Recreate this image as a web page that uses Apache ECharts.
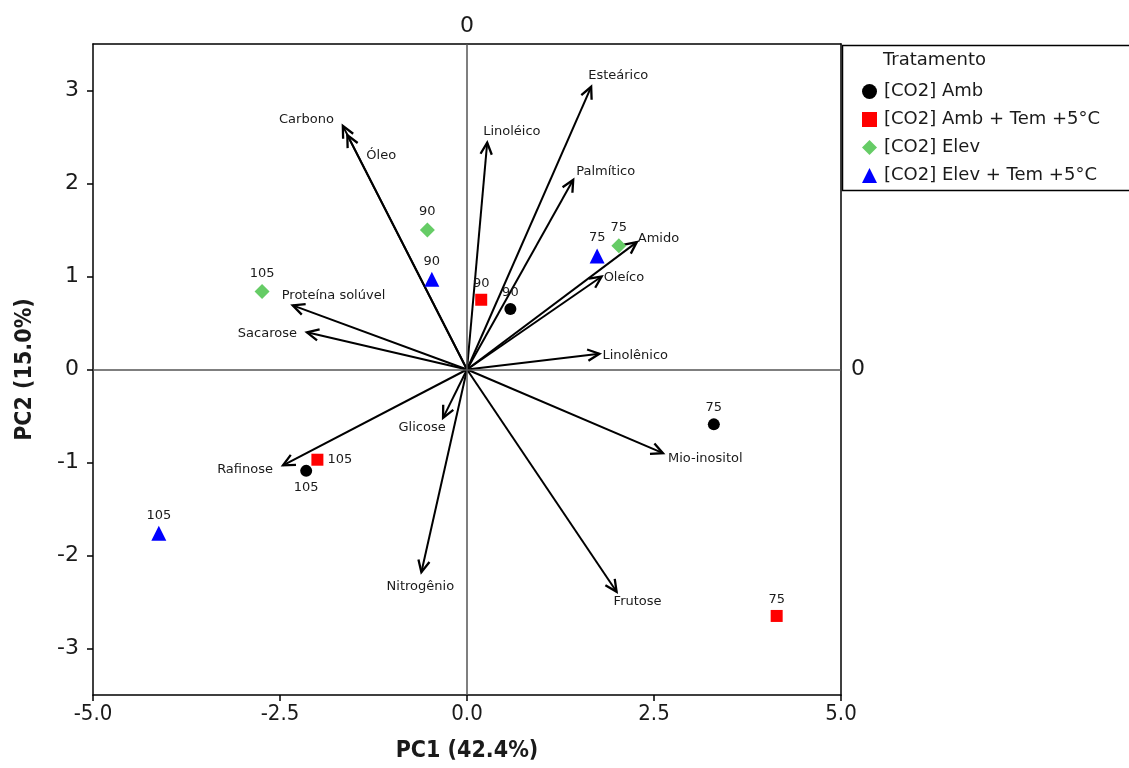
<!DOCTYPE html>
<html>
<head>
<meta charset="utf-8">
<script src="https://cdn.jsdelivr.net/npm/echarts@6/dist/echarts.min.js"></script>
<style>
  html, body { margin: 0; padding: 0; background: #fff; }
  #main { width: 1129px; height: 768px; }
</style>
</head>
<body>
<div id="main"></div>
<script>
// dias (rótulos dos pontos)
const days = ['75', '90', '105'];

// escores por tratamento (PC1, PC2), na ordem de days
const ambX = [3.30, 0.58, -2.15];
const ambY = [-0.59, 0.65, -1.09];
const ambTemX = [4.14, 0.19, -2.00];
const ambTemY = [-2.65, 0.75, -0.97];
const elevX = [2.03, -0.53, -2.74];
const elevY = [1.33, 1.50, 0.84];
const elevTemX = [1.74, -0.47, -4.12];
const elevTemY = [1.22, 0.97, -1.76];

// cargas (vetores)
const loadNames = ['Carbono', 'Óleo', 'Linoléico', 'Esteárico', 'Palmítico', 'Amido', 'Oleíco',
  'Proteína solúvel', 'Sacarose', 'Linolênico', 'Glicose', 'Rafinose', 'Nitrogênio', 'Frutose', 'Mio-inositol'];
const loadX = [-1.66, -1.60, 0.27, 1.66, 1.42, 2.27, 1.80, -2.33, -2.14, 1.77, -0.32, -2.46, -0.61, 2.00, 2.62];
const loadY = [2.62, 2.52, 2.44, 3.04, 2.04, 1.37, 1.00, 0.69, 0.40, 0.17, -0.52, -1.03, -2.18, -2.39, -0.90];

// eixos
const xTicks = [-5, -2.5, 0, 2.5, 5];
const yTicks = [-3, -2, -1, 0, 1, 2, 3];

const treatments = ['[CO2] Amb', '[CO2] Amb + Tem +5°C', '[CO2] Elev', '[CO2] Elev + Tem +5°C'];
const icons = ['circle', 'rect', 'diamond', 'triangle'];

const FONT = '"DejaVu Sans", Verdana, sans-serif';
const COND = '"DejaVu Sans Condensed", "DejaVu Sans", sans-serif';

// posição dos rótulos das setas: [dx, dy, align]
const labelOff = {
  'Carbono': [-9, -6, 'right'],
  'Óleo': [19, 20, 'left'],
  'Linoléico': [-4, -11, 'left'],
  'Esteárico': [-3, -11, 'left'],
  'Palmítico': [3, -8, 'left'],
  'Amido': [1, -3, 'left'],
  'Oleíco': [2, 1, 'left'],
  'Proteína solúvel': [-11, -10, 'left'],
  'Sacarose': [-10, 1, 'right'],
  'Linolênico': [3, 2, 'left'],
  'Glicose': [-21, 10, 'center'],
  'Rafinose': [-10, 4, 'right'],
  'Nitrogênio': [-1, 14, 'center'],
  'Frutose': [-3, 10, 'left'],
  'Mio-inositol': [5, 5, 'left']
};

function pts(xs, ys, special) {
  return xs.map((x, i) => {
    const item = { value: [x, ys[i]], name: days[i] };
    if (special && special[days[i]]) item.label = { position: special[days[i]] };
    return item;
  });
}

function scatter(name, data, symbol, size, color) {
  return {
    name: name,
    type: 'scatter',
    data: data,
    symbol: symbol,
    symbolSize: size,
    itemStyle: { color: color, opacity: 1 },
    label: {
      show: true,
      position: 'top',
      distance: 4,
      formatter: p => p.name,
      fontSize: 13,
      fontFamily: FONT,
      color: '#1a1a1a'
    },
    z: 3
  };
}

const series = [
  scatter(treatments[0], pts(ambX, ambY, { '105': 'bottom' }), 'circle', 12, '#000000'),
  scatter(treatments[1], pts(ambTemX, ambTemY, { '105': 'right' }), 'rect', 12, '#ff0000'),
  scatter(treatments[2], pts(elevX, elevY), 'diamond', 15, '#66cc66'),
  scatter(treatments[3], pts(elevTemX, elevTemY), 'triangle', 15, '#0000ff'),
  {
    name: 'cargas',
    type: 'custom',
    data: loadNames.map((n, i) => [loadX[i], loadY[i], i]),
    encode: { x: 0, y: 1 },
    z: 2,
    silent: true,
    renderItem: function (params, api) {
      const o = api.coord([0, 0]);
      const t = api.coord([api.value(0), api.value(1)]);
      const name = loadNames[api.value(2)];
      const ang = Math.atan2(t[1] - o[1], t[0] - o[0]);
      const L = 13, a = Math.PI / 7;
      const p1 = [t[0] - L * Math.cos(ang - a), t[1] - L * Math.sin(ang - a)];
      const p2 = [t[0] - L * Math.cos(ang + a), t[1] - L * Math.sin(ang + a)];
      const off = labelOff[name] || [4, 0, 'left'];
      return {
        type: 'group',
        children: [
          { type: 'line', shape: { x1: o[0], y1: o[1], x2: t[0], y2: t[1] },
            style: { stroke: '#000', lineWidth: 2 } },
          { type: 'polyline', shape: { points: [p1, t, p2] },
            style: { stroke: '#000', lineWidth: 2.3, fill: null } },
          { type: 'text', x: t[0] + off[0], y: t[1] + off[1],
            style: { text: name, fontSize: 13, fontFamily: FONT, fill: '#1a1a1a',
              align: off[2], verticalAlign: 'middle' } }
        ]
      };
    },
    markLine: {
      silent: true,
      symbol: 'none',
      label: { show: false },
      lineStyle: { color: '#555', width: 1.5, type: 'solid' },
      data: [{ xAxis: 0 }, { yAxis: 0 }]
    }
  }
];

const option = {
  animation: false,
  backgroundColor: '#fff',
  grid: { left: 93, top: 44, width: 748, height: 651, containLabel: false },
  xAxis: [
    {
      type: 'value', min: -5, max: 5, position: 'bottom',
      name: 'PC1 (42.4%)', nameLocation: 'middle', nameGap: 45,
      nameTextStyle: { fontSize: 23, fontWeight: 'bold', fontFamily: COND, color: '#1a1a1a' },
      axisLine: { onZero: false, lineStyle: { color: '#000', width: 1.5 } },
      axisTick: { length: 6, customValues: xTicks, lineStyle: { color: '#000', width: 1.5 } },
      axisLabel: { customValues: xTicks, formatter: v => v.toFixed(1), fontSize: 22,
        fontFamily: COND, color: '#1a1a1a', margin: 8 },
      splitLine: { show: false }
    },
    {
      type: 'value', min: -5, max: 5, position: 'top',
      axisLine: { onZero: false, lineStyle: { color: '#000', width: 1.5 } },
      axisTick: { show: false },
      axisLabel: { customValues: [0], formatter: () => '0', fontSize: 22,
        fontFamily: FONT, color: '#1a1a1a', margin: 7 },
      splitLine: { show: false }
    }
  ],
  yAxis: [
    {
      type: 'value', min: -3.5, max: 3.5, position: 'left',
      name: 'PC2 (15.0%)', nameLocation: 'middle', nameGap: 56, nameRotate: 90,
      nameTextStyle: { fontSize: 23, fontWeight: 'bold', fontFamily: COND, color: '#1a1a1a' },
      axisLine: { onZero: false, lineStyle: { color: '#000', width: 1.5 } },
      axisTick: { length: 6, customValues: yTicks, lineStyle: { color: '#000', width: 1.5 } },
      axisLabel: { customValues: yTicks, fontSize: 22, fontFamily: FONT, color: '#1a1a1a', margin: 14 },
      splitLine: { show: false }
    },
    {
      type: 'value', min: -3.5, max: 3.5, position: 'right',
      axisLine: { onZero: false, lineStyle: { color: '#000', width: 1.5 } },
      axisTick: { show: false },
      axisLabel: { customValues: [0], formatter: () => '0', fontSize: 22,
        fontFamily: FONT, color: '#1a1a1a', margin: 10 },
      splitLine: { show: false }
    }
  ],
  legend: {
    data: treatments.map((t, i) => ({ name: t, icon: icons[i] })),
    orient: 'vertical',
    left: 857,
    top: 76,
    itemWidth: 15,
    itemHeight: 15,
    itemGap: 7,
    selectedMode: false,
    textStyle: { fontSize: 18, fontFamily: FONT, color: '#1a1a1a', lineHeight: 21, padding: [0, 0, 0, 2] }
  },
  graphic: [
    { type: 'rect', left: 840, top: 43, shape: { width: 300, height: 145 },
      style: { stroke: '#000', lineWidth: 1.5, fill: 'none' }, silent: true },
    { type: 'text', left: 883, top: 51,
      style: { text: 'Tratamento', fontSize: 18, fontFamily: FONT, fill: '#1a1a1a' }, silent: true }
  ],
  series: series
};

const chart = echarts.init(document.getElementById('main'));
chart.setOption(option);
</script>
</body>
</html>
